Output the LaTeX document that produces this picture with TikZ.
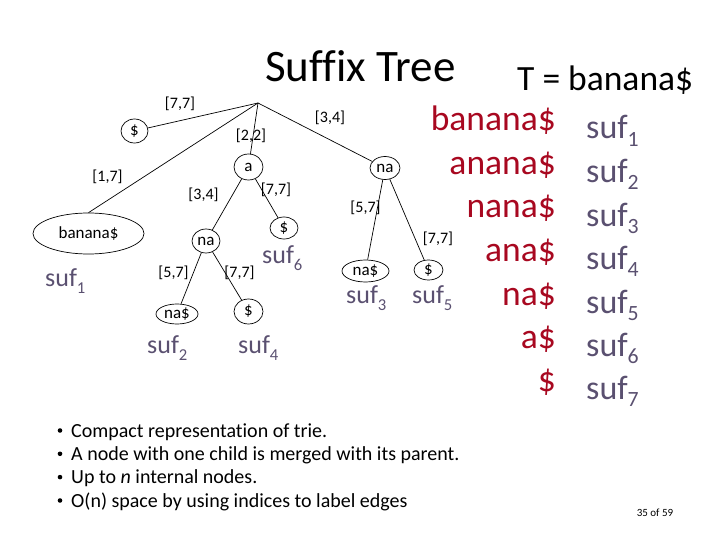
\documentclass[tikz,border=0pt]{standalone}
\usepackage{fontspec}
\setmainfont{Carlito}[Ligatures={NoCommon}]
\usetikzlibrary{shapes.geometric}
\definecolor{sufred}{RGB}{168,8,32}
\definecolor{sufgray}{RGB}{90,80,112}
\newcommand\fs[1]{\fontsize{#1}{#1}\selectfont}
\newcommand\sufx[2][0.3]{suf\raisebox{-#1em}{\scalebox{0.64}{#2}}}
\tikzset{
  tnode/.style={draw, ellipse, inner sep=0pt, line width=0.7pt, font=\fs{17}},
  elab/.style={inner sep=0pt, font=\fs{16}},
  tedge/.style={line width=0.7pt},
  redtxt/.style={anchor=base east, inner sep=0pt, text=sufred, font=\fs{35.5}},
  suftxt/.style={anchor=base west, inner sep=0pt, text=sufgray, font=\fs{34}},
  treesuf/.style={anchor=base west, inner sep=0pt, text=sufgray, font=\fs{26}},
  bul/.style={anchor=base west, inner sep=0pt, font=\fs{20}},
}
\begin{document}
\begin{tikzpicture}[x=1pt,y=-1pt]
\useasboundingbox (0,0) rectangle (720,540);
% titles
\node[anchor=base west, inner sep=0pt, font=\fs{45}] (title) at (265,82) {Suffix Tree};
\node[anchor=base west, inner sep=0pt, font=\fs{35.5}] (tstr) at (517,91) {T = banana\$};
% tree
\coordinate (root) at (258,103);
\node[tnode, minimum width=27pt, minimum height=24pt] (d1) at (134.5,131) {\$};
\node[tnode, minimum width=29pt, minimum height=26pt] (a) at (248.5,167) {a};
\node[tnode, minimum width=111pt, minimum height=41pt] (ban) at (88.5,233.5) {banana\$};
\node[tnode, minimum width=28pt, minimum height=24pt] (naL) at (206,241) {na};
\node[tnode, minimum width=28pt, minimum height=22pt] (d6) at (284,228) {\$};
\node[tnode, minimum width=42pt, minimum height=20pt] (na2) at (177,314) {na\$};
\node[tnode, minimum width=29pt, minimum height=25pt] (d4) at (248.5,311.5) {\$};
\node[tnode, minimum width=30pt, minimum height=23pt] (naR) at (385,168) {na};
\node[tnode, minimum width=47pt, minimum height=22pt] (na3) at (365.5,271) {na\$};
\node[tnode, minimum width=29pt, minimum height=20pt] (d5) at (428.5,270) {\$};
\draw[tedge] (root) -- (d1);
\draw[tedge] (root) -- (a);
\draw[tedge] (root) -- (ban.north);
\draw[tedge] (root) -- (naR);
\draw[tedge] (a) -- (naL);
\draw[tedge] (a) -- (d6);
\draw[tedge] (naL) -- (na2);
\draw[tedge] (naL) -- (d4);
\draw[tedge] (naR) -- (na3);
\draw[tedge] (naR) -- (d5);
% edge labels
\node[elab] (l1) at (180,104) {[7,7]};
\node[elab] (l2) at (251,135.5) {[2,2]};
\node[elab] (l3) at (107.5,176.5) {[1,7]};
\node[elab] (l4) at (203.5,194.5) {[3,4]};
\node[elab] (l5) at (276,189.5) {[7,7]};
\node[elab] (l6) at (173.5,273) {[5,7]};
\node[elab] (l7) at (239.5,273) {[7,7]};
\node[elab] (l8) at (330,117.5) {[3,4]};
\node[elab] (l9) at (365.5,207.5) {[5,7]};
\node[elab] (l10) at (438,238.5) {[7,7]};
% tree suffix labels
\node[treesuf] (s1) at (45,286) {\sufx{1}};
\node[treesuf] (s2) at (147,353) {\sufx{2}};
\node[treesuf] (s4) at (238,353) {\sufx{4}};
\node[treesuf] (s6) at (262,263) {\sufx{6}};
\node[treesuf] (s3) at (346,303) {\sufx{3}};
\node[treesuf] (s5) at (412,303) {\sufx{5}};
% suffix list
\node[redtxt] (r1) at (556,131) {banana\$};
\node[redtxt] (r2) at (556,174.5) {anana\$};
\node[redtxt] (r3) at (556,218) {nana\$};
\node[redtxt] (r4) at (556,261.5) {ana\$};
\node[redtxt] (r5) at (556,305) {na\$};
\node[redtxt] (r6) at (556,348) {a\$};
\node[redtxt] (r7) at (556,391) {\$};
\node[suftxt] (q1) at (586,139) {\sufx[0.22]{1}};
\node[suftxt] (q2) at (586,182.5) {\sufx[0.22]{2}};
\node[suftxt] (q3) at (586,226) {\sufx[0.22]{3}};
\node[suftxt] (q4) at (586,269.5) {\sufx[0.22]{4}};
\node[suftxt] (q5) at (586,313) {\sufx[0.22]{5}};
\node[suftxt] (q6) at (586,356) {\sufx[0.22]{6}};
\node[suftxt] (q7) at (586,399) {\sufx[0.22]{7}};
% bullets
\foreach \yy/\txt [count=\i] in {437/{Compact representation of trie.},460.3/{A node with one child is merged with its parent.},483.6/{Up to \textit{n} internal nodes.},507/{O(n) space by using indices to label edges}}{
  \node[bul] (b\i) at (71,\yy) {\txt};
  \fill (60,\yy-6.5) circle (2.3pt);
}
\node[inner sep=0pt, font=\fs{11}] (pg) at (655,513) {35 of 59};
\end{tikzpicture}
\end{document}
